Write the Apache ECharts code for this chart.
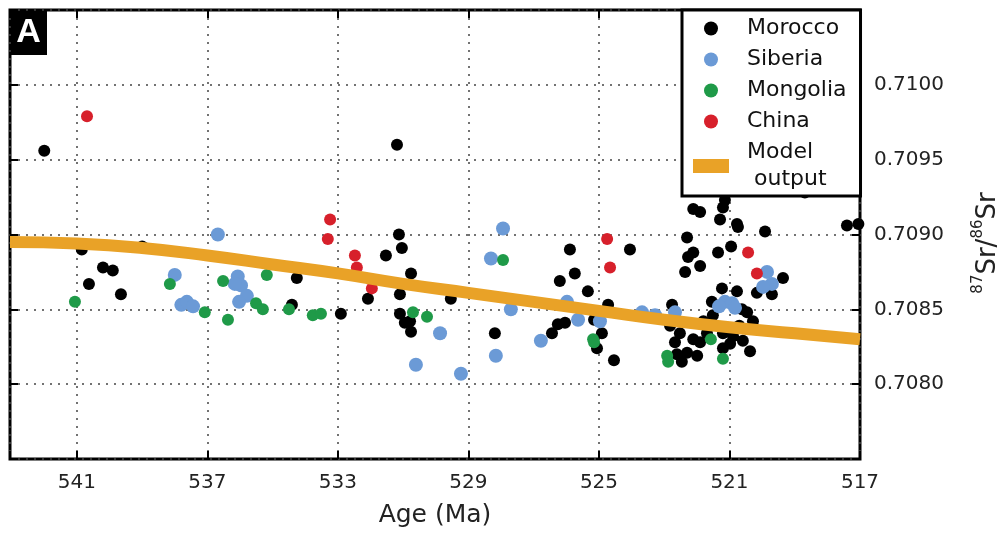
<!DOCTYPE html>
<html>
<head>
<meta charset="utf-8">
<script src="https://cdn.jsdelivr.net/npm/echarts@6/dist/echarts.min.js"></script>
<style>
  html, body { margin: 0; padding: 0; background: #fff; }
  #chart { width: 1002px; height: 533px; }
</style>
</head>
<body>
<div id="chart"></div>
<script>
// ---- data: [age (Ma), 87Sr/86Sr] ----
const morocco = [
  [542.0, 0.70956], [540.85, 0.70890], [539.0, 0.70892], [540.2, 0.70878], [539.9, 0.70876],
  [540.63, 0.70867], [539.65, 0.70860], [534.26, 0.70871], [534.41, 0.70853], [532.91, 0.70847],
  [531.19, 0.70960], [531.13, 0.70900], [531.04, 0.70891], [531.53, 0.70886], [530.76, 0.70874],
  [531.10, 0.70860], [532.08, 0.70857], [531.10, 0.70847], [530.95, 0.70841], [530.79, 0.70842],
  [530.76, 0.70835], [529.54, 0.70857], [528.19, 0.70834], [525.89, 0.70890], [525.74, 0.70874],
  [526.20, 0.70869], [525.34, 0.70862], [524.72, 0.70853], [526.26, 0.70840], [526.04, 0.70841],
  [526.44, 0.70834], [524.91, 0.70834], [525.06, 0.70824], [524.54, 0.70816], [524.05, 0.70890],
  [525.15, 0.70843], [522.76, 0.70853], [522.82, 0.70839], [522.67, 0.70828], [522.61, 0.70820],
  [522.11, 0.70917], [521.90, 0.70915], [521.14, 0.70923], [521.20, 0.70918], [521.29, 0.70910],
  [520.77, 0.70907], [520.74, 0.70905], [519.91, 0.70902], [522.30, 0.70898], [522.11, 0.70888],
  [522.27, 0.70885], [521.90, 0.70879], [522.36, 0.70875], [521.35, 0.70888], [520.95, 0.70892],
  [519.36, 0.70871], [520.16, 0.70861], [519.70, 0.70860], [521.23, 0.70864], [520.77, 0.70862],
  [521.54, 0.70855], [520.62, 0.70850], [520.46, 0.70848], [520.28, 0.70842], [521.51, 0.70846],
  [521.20, 0.70834], [520.89, 0.70832], [520.59, 0.70829], [520.37, 0.70822], [522.52, 0.70834],
  [522.11, 0.70830], [521.90, 0.70828], [522.30, 0.70821], [521.99, 0.70819], [522.46, 0.70815],
  [520.98, 0.70827], [521.20, 0.70824], [521.69, 0.70834], [521.80, 0.70842], [520.70, 0.70839],
  [517.40, 0.70906], [517.05, 0.70907], [518.69, 0.70928]
];
const siberia = [
  [536.68, 0.70900], [538.00, 0.70873], [537.80, 0.70853], [537.63, 0.70855], [537.44, 0.70852],
  [536.07, 0.70872], [535.97, 0.70866], [536.16, 0.70867], [535.79, 0.70859], [536.03, 0.70855],
  [527.94, 0.70904], [528.31, 0.70884], [527.70, 0.70850], [529.87, 0.70834], [530.61, 0.70813],
  [529.23, 0.70807], [528.16, 0.70819], [526.78, 0.70829], [525.98, 0.70855], [525.64, 0.70843],
  [524.97, 0.70842], [523.68, 0.70848], [523.28, 0.70846], [522.67, 0.70848], [521.14, 0.70855],
  [520.92, 0.70854], [520.83, 0.70851], [521.32, 0.70852], [519.85, 0.70875], [519.70, 0.70867],
  [519.97, 0.70865]
];
const mongolia = [
  [541.06, 0.70855], [538.15, 0.70867], [537.08, 0.70848], [536.52, 0.70869], [536.37, 0.70843],
  [535.18, 0.70873], [535.51, 0.70854], [535.30, 0.70850], [534.50, 0.70850], [533.77, 0.70846],
  [533.52, 0.70847], [530.70, 0.70848], [530.27, 0.70845], [527.94, 0.70883], [525.18, 0.70830],
  [525.15, 0.70828], [521.57, 0.70830], [522.91, 0.70819], [522.88, 0.70815], [521.20, 0.70817]
];
const china = [
  [540.69, 0.70979], [533.24, 0.70910], [533.31, 0.70897], [532.48, 0.70886], [532.42, 0.70878],
  [531.96, 0.70864], [524.75, 0.70897], [524.66, 0.70878], [520.43, 0.70888], [520.16, 0.70874]
];
const modelAge = [543.05, 541, 539, 537, 535, 533, 531, 529, 527, 525, 523, 521, 519, 517];
const modelSr  = [0.70895, 0.70894, 0.70891, 0.70886, 0.70880, 0.70874, 0.70867, 0.70861,
                  0.70855, 0.70849, 0.70843, 0.70838, 0.70834, 0.70830];
const xTickLabels = [541, 537, 533, 529, 525, 521, 517];
const yTickLabels = ['0.7080', '0.7085', '0.7090', '0.7095', '0.7100'];
const seriesNames = ['Morocco', 'Siberia', 'Mongolia', 'China', 'Model output'];

const FONT = 'DejaVu Sans';
const chart = echarts.init(document.getElementById('chart'), null, { renderer: 'canvas' });

const gridDots = { show: true, lineStyle: { type: [2, 6], color: '#444', width: 1.5 } };
const tickIn = { show: true, inside: true, length: 8, lineStyle: { color: '#000', width: 2 } };

function xLabel(v) {
  const r = Math.round(v);
  return (Math.abs(v - r) < 1e-6 && xTickLabels.indexOf(r) >= 0) ? String(r) : '';
}
function yLabel(v) {
  const s = v.toFixed(4);
  return yTickLabels.indexOf(s) >= 0 ? s : '';
}

const option = {
  backgroundColor: '#fff',
  animation: false,
  grid: { left: 10, right: 142, top: 10, bottom: 70, show: true, borderColor: '#000', borderWidth: 3, backgroundColor: '#fff' },
  xAxis: [
    {
      type: 'value', inverse: true, min: 517, max: 543.05, interval: 4, position: 'bottom',
      axisLine: { show: false }, axisTick: tickIn,
      axisLabel: { formatter: xLabel, fontSize: 20, color: '#222', margin: 14, fontFamily: FONT },
      splitLine: gridDots,
      name: 'Age (Ma)', nameLocation: 'middle', nameGap: 44,
      nameTextStyle: { fontSize: 25, color: '#222', fontFamily: FONT }
    },
    {
      type: 'value', inverse: true, min: 517, max: 543.05, interval: 4, position: 'top',
      axisLine: { show: false }, axisTick: tickIn, axisLabel: { show: false }, splitLine: { show: false }
    }
  ],
  yAxis: [
    {
      type: 'value', min: 0.7075, max: 0.7105, interval: 0.0005, position: 'right',
      axisLine: { show: false }, axisTick: tickIn,
      axisLabel: { formatter: yLabel, fontSize: 20, color: '#222', margin: 14, fontFamily: FONT },
      splitLine: gridDots
    },
    {
      type: 'value', min: 0.7075, max: 0.7105, interval: 0.0005, position: 'left',
      axisLine: { show: false }, axisTick: tickIn, axisLabel: { show: false }, splitLine: { show: false }
    }
  ],
  legend: {
    orient: 'vertical', left: 682, top: 10,
    backgroundColor: '#fff', borderColor: '#000', borderWidth: 3,
    padding: [5, 14, 3, 11], itemGap: 4, itemWidth: 36, itemHeight: 14,
    textStyle: { fontSize: 22, lineHeight: 27, color: '#111', fontFamily: FONT, padding: [0, 0, 0, 13] },
    formatter: function (n) { return n === 'Model output' ? 'Model\n output' : n; },
    data: [
      { name: seriesNames[0], icon: 'circle' },
      { name: seriesNames[1], icon: 'circle' },
      { name: seriesNames[2], icon: 'circle' },
      { name: seriesNames[3], icon: 'circle' },
      { name: seriesNames[4], icon: 'rect' }
    ]
  },
  series: [
    { name: seriesNames[0], type: 'scatter', data: morocco, symbolSize: 12, clip: false, itemStyle: { color: '#000', opacity: 1 } },
    { name: seriesNames[1], type: 'scatter', data: siberia, symbolSize: 14, clip: false, itemStyle: { color: '#6b9ad6', opacity: 1 } },
    { name: seriesNames[2], type: 'scatter', data: mongolia, symbolSize: 12, clip: false, itemStyle: { color: '#1f9a48', opacity: 1 } },
    { name: seriesNames[3], type: 'scatter', data: china, symbolSize: 12, clip: false, itemStyle: { color: '#d7202b', opacity: 1 } },
    {
      name: seriesNames[4], type: 'line', smooth: true, showSymbol: false, z: 3,
      data: modelAge.map(function (a, i) { return [a, modelSr[i]]; }),
      lineStyle: { color: '#e9a227', width: 12 }, itemStyle: { color: '#e9a227' }
    }
  ],
  graphic: [
    {
      type: 'group', left: 10, top: 10, z: 100,
      children: [
        { type: 'rect', shape: { x: 0, y: 0, width: 37, height: 45 }, style: { fill: '#000' } },
        { type: 'text', x: 18.5, y: 23, style: { text: 'A', fill: '#fff', font: 'bold 34px "Liberation Sans"', align: 'center', verticalAlign: 'middle' } }
      ]
    },
    {
      type: 'text', x: 986, y: 243, rotation: Math.PI / 2, z: 100,
      style: {
        text: '{s|87}{b|Sr/}{s|86}{b|Sr}',
        align: 'center', verticalAlign: 'middle',
        rich: {
          s: { fontSize: 15, fontFamily: FONT, fill: '#222', verticalAlign: 'top', lineHeight: 30 },
          b: { fontSize: 26, fontFamily: FONT, fill: '#222', verticalAlign: 'bottom', lineHeight: 30 }
        }
      }
    }
  ]
};
chart.setOption(option);
</script>
</body>
</html>
